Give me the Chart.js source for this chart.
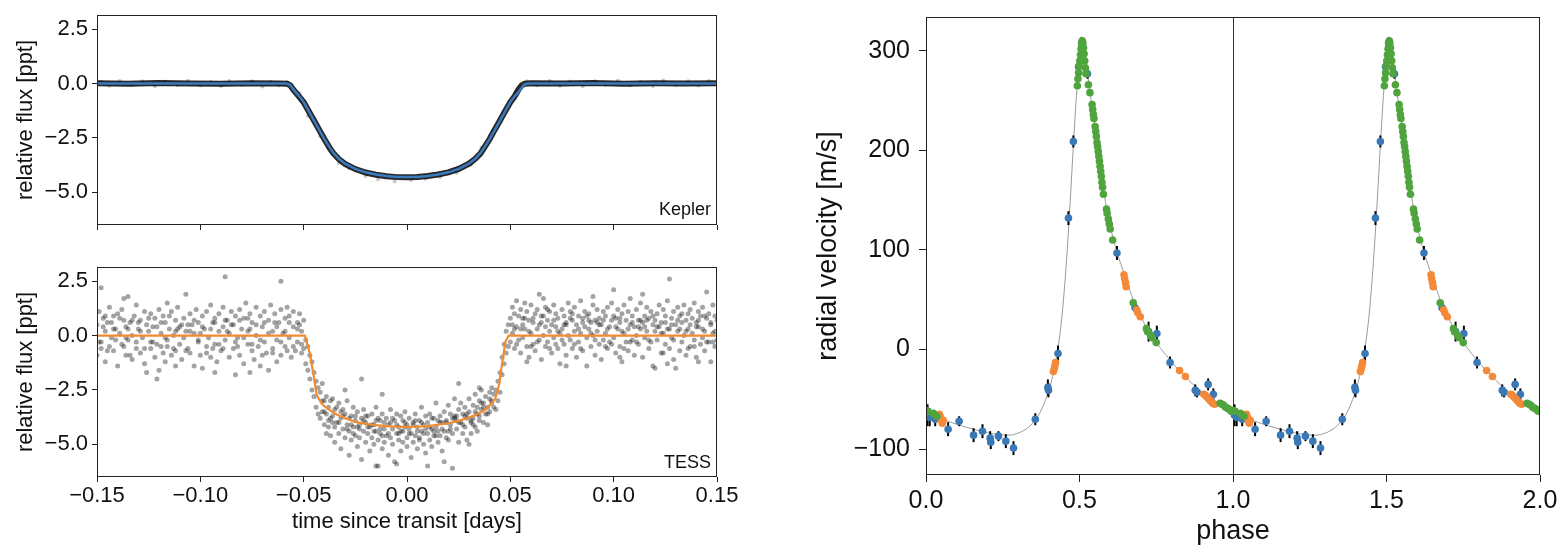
<!DOCTYPE html>
<html>
<head>
<meta charset="utf-8">
<title>Transit and RV fit</title>
<script src="https://cdn.jsdelivr.net/npm/chart.js@4.4.0/dist/chart.umd.min.js"></script>
<style>
  html, body { margin: 0; padding: 0; background: #fff; }
  body { width: 1566px; height: 553px; position: relative; overflow: hidden; }
  canvas { position: absolute; }
</style>
</head>
<body>
<canvas id="kepler" width="760" height="240" style="left:0;top:0"></canvas>
<canvas id="tess" width="760" height="298" style="left:0;top:255px"></canvas>
<canvas id="rv" width="766" height="553" style="left:800px;top:0"></canvas>
<script>
// ---- tick values / labels ----
const lcTimeTicks = [-0.15, -0.10, -0.05, 0, 0.05, 0.10, 0.15];
const lcTimeLabels = ['\u22120.15', '\u22120.10', '\u22120.05', '0.00', '0.05', '0.10', '0.15'];
const lcFluxTicks = [-5, -2.5, 0, 2.5];
const lcFluxLabels = ['\u22125.0', '\u22122.5', '0.0', '2.5'];
const rvPhaseTicks = [0, 0.5, 1, 1.5, 2];
const rvPhaseLabels = ['0.0', '0.5', '1.0', '1.5', '2.0'];
const rvVelTicks = [-100, 0, 100, 200, 300];
const rvVelLabels = ['\u2212100', '0', '100', '200', '300'];

// ---- Kepler (time in 1e-3 days, flux in ppt) ----
const keplerBinT = [-150,-135,-120,-105,-90,-75,-62,-58,-56.5,-55,-52,-50,-47,-45,-42,-40,-37,-35.5,-33,-30,-25,-20,-15,-10,-5,0,5,10,15,20,25,30,33,35.5,37,40,42,45,47,50,52,54,55.5,57,60,75,90,105,120,135,150];
const keplerBinF = [0.01,-0.01,0.02,0,-0.01,0.01,0,-0.01,-0.08,-0.28,-0.62,-0.86,-1.36,-1.70,-2.21,-2.55,-3.02,-3.22,-3.47,-3.69,-3.93,-4.09,-4.19,-4.26,-4.3,-4.31,-4.29,-4.25,-4.18,-4.08,-3.92,-3.68,-3.46,-3.22,-3.0,-2.55,-2.2,-1.7,-1.35,-0.86,-0.6,-0.27,-0.08,-0.01,0.01,0,0.02,-0.01,0.01,0,0.01];
// scattered Kepler points (time 1e-3 d, flux 1e-2 ppt)
const keplerPts = [-148,8, -144,-10, -139,12, -133,-7, -128,10, -122,-12, -117,9, -111,-8, -106,13, -100,-9, -95,7, -90,-11, -86,12, -80,-6, -75,10, -70,-13, -66,8, -62,-9, -58,6, -52,-45, -48,-148, -42,-242, -38,-295, -33,-365, -28,-390, -20,-425, -14,-440, -6,-450, 2,-443, 9,-438, 16,-430, 24,-410, 31,-372, 36,-295, 42,-215, 47,-135, 53,-40, 58,10, 63,-8, 69,12, 74,-10, 79,9, 85,-12, 91,11, 96,-7, 102,13, 108,-9, 113,8, 119,-11, 124,14, 130,-8, 136,10, 141,-9, 146,12];
const keplerModelT = [-150,-58,-56.5,-55,-52,-50,-45,-40,-37,-35.5,-33,-30,-25,-20,-15,-10,-5,0,5,10,15,20,25,30,33,35.5,37,40,45,50,52,55,56.5,58,150];
const keplerModelF = [0,0,-0.07,-0.27,-0.6,-0.85,-1.7,-2.55,-3.0,-3.2,-3.46,-3.68,-3.92,-4.08,-4.18,-4.25,-4.29,-4.3,-4.29,-4.25,-4.18,-4.08,-3.92,-3.68,-3.46,-3.2,-3.0,-2.55,-1.7,-0.85,-0.6,-0.27,-0.07,0,0];

// ---- TESS (time 1e-3 d, flux 0.1 ppt) ----
const tessPts = [
-150,5, -150,-9, -149,11, -148,22, -148,-3, -147,8, -146,-12, -146,2, -145,6, -144,-5,
-144,13, -143,-1, -142,9, -142,-7, -141,3, -140,-14, -140,10, -139,1, -138,-4, -138,12,
-137,7, -136,-9, -136,4, -135,18, -135,-2, -134,6, -133,-11, -133,0, -132,9, -131,-6,
-131,14, -130,3, -129,-8, -129,7, -128,-1, -127,11, -127,-13, -126,-17, -126,5, -125,2,
-124,-6, -124,10, -123,-3, -122,8, -122,-10, -121,-20, -121,4, -120,12, -119,-5, -119,1,
-118,9, -117,-12, -117,6, -116,15, -116,-2, -115,3, -114,-9, -114,11, -113,0, -112,-7,
-112,7, -111,13, -110,-4, -110,4, -109,-11, -108,8, -108,-1, -107,19, -107,2, -106,-6,
-105,10, -105,-8, -104,5, -103,-14, -103,1, -102,12, -101,-3, -101,6, -100,-9, -99,9,
-99,-15, -98,3, -97,11, -97,-5, -96,-1, -95,14, -95,-10, -94,6, -93,-4, -93,8,
-92,-12, -91,2, -91,10, -90,-7, -89,4, -89,13, -88,27, -88,-2, -87,7, -86,-10,
-86,1, -85,11, -84,-6, -84,5, -83,-18, -83,9, -82,-1, -81,12, -81,-9, -80,3,
-79,-13, -79,8, -78,15, -77,-4, -77,2, -76,10, -75,-7, -75,6, -74,-11, -73,13,
-73,0, -72,-5, -71,9, -71,-14, -70,4, -69,11, -69,-3, -68,-8, -67,7, -67,-16,
-66,14, -65,2, -65,-6, -64,10, -63,-2, -63,-12, -62,6, -61,12, -61,-9, -60,1,
-59,8, -59,-5, -58,13, -57,-1, -57,9, -56,-10, -55,4, -55,11, -54,-7, -53,6,
-53,-3, -52,10, -51,-8, -51,2, -61,25, -93,-17, -120,-16, -112,-14, -76,-17, -137,17,
-50,7, -50,-6, -49,-2, -49,-13, -48,-5, -48,-16, -47,-9, -47,-20, -46,-12, -46,-25,
-45,-17, -45,-28, -44,-21, -44,-33, -43,-24, -43,-36,
-42,-26, -42,-38, -41,-30, -41,-22, -40,-35, -40,-41, -39,-28, -39,-45, -38,-33, -38,-39,
-37,-30, -37,-46, -36,-37, -36,-29, -35,-42, -35,-49, -34,-33, -34,-40, -33,-45, -33,-31,
-32,-38, -32,-52, -31,-34, -31,-43, -30,-47, -30,-36, -29,-41, -29,-30, -28,-44, -28,-55,
-27,-37, -27,-48, -26,-33, -26,-42, -25,-46, -25,-39, -24,-51, -24,-35, -23,-43, -23,-47,
-22,-38, -22,-57, -21,-44, -21,-34, -20,-49, -20,-40, -19,-45, -19,-37, -18,-53, -18,-42,
-17,-36, -17,-47, -16,-41, -16,-50, -15,-44, -15,-33, -14,-48, -14,-60, -13,-39, -13,-45,
-12,-52, -12,-36, -11,-43, -11,-49, -10,-38, -10,-46, -9,-55, -9,-41, -8,-34, -8,-47,
-7,-50, -7,-43, -6,-39, -6,-58, -5,-45, -5,-36, -4,-48, -4,-42, -3,-53, -3,-37,
-2,-44, -2,-49, -1,-40, -1,-35, 0,-47, 0,-51, 1,-43, 1,-38, 2,-56, 2,-45,
3,-41, 3,-49, 4,-36, 4,-46, 5,-52, 5,-42, 6,-39, 6,-47, 7,-44, 7,-33,
8,-50, 8,-41, 9,-37, 9,-54, 10,-45, 10,-40, 11,-48, 11,-36, 12,-43, 12,-51,
13,-38, 13,-46, 14,-42, 14,-31, 15,-49, 15,-44, 16,-37, 16,-46, 17,-40, 17,-53,
18,-35, 18,-44, 19,-47, 19,-39, 20,-32, 20,-48, 21,-41, 21,-36, 22,-45, 22,-61,
23,-38, 23,-29, 24,-43, 24,-37, 25,-49, 25,-34, 26,-40, 26,-31, 27,-45, 27,-36,
28,-33, 28,-42, 29,-48, 29,-38, 30,-35, 30,-29, 31,-40, 31,-45, 32,-32, 32,-38,
33,-42, 33,-27, 34,-36, 34,-44, 35,-30, 35,-39, 36,-34, 36,-25, 37,-40, 37,-31,
38,-28, 38,-36, 39,-33, 39,-41, 40,-26, 40,-35, 41,-30, 41,-24, 42,-33, 42,-27,
-22,-20, -12,-27, -5,-59, 10,-60, 18,-58, 25,-22, -30,-25, -15,-60, 30,-50, 35,-24,
43,-25, 43,-34, 44,-21, 44,-30, 45,-17, 45,-26, 46,-10, 46,-18, 47,-4, 47,-13, 48,2, 48,-8, 49,5, 49,-5,
50,8, 50,-3, 51,13, 51,1, 52,-6, 52,10, 53,4, 53,16, 54,-2, 54,9,
55,12, 55,-8, 56,5, 56,-1, 57,15, 57,3, 58,-5, 58,11, 59,7, 59,-10,
60,1, 60,14, 61,-4, 61,8, 62,10, 62,-7, 63,3, 63,12, 64,19, 64,-2,
65,6, 65,-11, 66,9, 66,0, 67,13, 67,-5, 68,-3, 68,7, 69,11, 69,2,
70,-8, 70,5, 71,14, 71,-1, 72,4, 72,10, 73,-6, 73,8, 74,1, 74,-13,
75,12, 75,3, 76,-4, 76,9, 77,6, 77,-9, 78,15, 78,0, 79,-2, 79,11,
80,7, 80,-6, 81,13, 81,2, 82,-10, 82,5, 83,9, 83,-3, 84,16, 84,1,
85,-7, 85,8, 86,4, 86,11, 87,-1, 87,-14, 88,10, 88,3, 89,6, 89,-5,
90,14, 90,0, 91,-9, 91,7, 92,2, 92,12, 93,-4, 93,8, 94,5, 94,-11,
95,11, 95,-2, 96,9, 96,1, 97,-6, 97,13, 98,4, 98,-3, 99,15, 99,7,
100,21, 100,-1, 101,8, 101,-8, 102,3, 102,12, 103,-5, 103,6, 104,10, 104,-12,
105,1, 105,14, 106,-3, 106,7, 107,11, 107,-7, 108,5, 108,17, 109,-2, 109,9,
110,4, 110,-9, 111,12, 111,0, 112,7, 112,-4, 113,15, 113,3, 114,-10, 114,6,
115,9, 115,-1, 116,2, 116,13, 117,-6, 117,8, 118,11, 118,-3, 119,5, 119,-14,
120,-15, 120,7, 121,10, 121,-2, 122,4, 122,14, 123,-8, 123,6, 124,12, 124,1,
125,-4, 125,9, 126,16, 126,3, 127,26, 127,-6, 128,8, 128,-1, 129,11, 129,-11,
130,5, 130,-15, 131,13, 131,2, 132,-7, 132,9, 133,6, 133,-3, 134,14, 134,0,
135,-9, 135,7, 136,10, 136,3, 137,-5, 137,12, 138,1, 138,8, 139,-2, 139,15,
140,6, 140,-10, 141,11, 141,4, 142,-4, 142,9, 143,13, 143,-1, 144,2, 144,-7,
145,8, 145,20, 146,-3, 146,10, 147,5, 147,-12, 148,14, 148,1, 149,-5, 149,9,
150,7, 150,-2, 58,-12, 77,-14, 103,-10, 126,-13, 141,-12, 66,17, 90,18, 114,19,
// second visit, denser core of the cloud
-149,-3, -147,4, -145,-7, -143,6, -141,-2, -139,8, -137,-5, -135,3, -133,7, -131,-3,
-129,2, -127,-6, -125,8, -123,4, -121,-4, -119,6, -117,-1, -115,9, -113,-6, -111,3,
-109,5, -107,-7, -105,2, -103,7, -101,-2, -99,4, -97,-8, -95,3, -93,6, -91,-4,
-89,-6, -87,2, -85,5, -83,-3, -81,7, -79,-1, -77,8, -75,-4, -73,5, -71,-2,
-69,6, -67,1, -65,-8, -63,4, -61,-3, -59,2, -57,6, -55,-5, -53,3, -51,-4,
-148,-6, -142,3, -136,-1, -130,6, -124,-3, -118,-8, -112,2, -106,5, -100,1, -94,-6,
-88,7, -82,-5, -76,3, -70,-9, -64,6, -58,-7, -52,5, -146,9, -134,-9, -116,-5,
-41,-35, -39,-36, -37,-38, -35,-34, -33,-40, -31,-37, -29,-43, -27,-41, -25,-37, -23,-41,
-21,-39, -19,-42, -17,-41, -15,-39, -13,-43, -11,-40, -9,-45, -7,-38, -5,-41, -3,-44,
-1,-42, 1,-45, 3,-40, 5,-44, 7,-40, 9,-43, 11,-42, 13,-44, 15,-39, 17,-43,
19,-40, 21,-43, 23,-37, 25,-40, 27,-41, 29,-36, 31,-39, 33,-35, 35,-37, 37,-33,
39,-36, 41,-31, -40,-30, -36,-40, -32,-35, -28,-38, -24,-42, -20,-37, -16,-44, -12,-46,
-8,-40, -4,-45, 0,-41, 4,-39, 8,-45, 12,-38, 16,-40, 20,-44, 24,-39, 28,-37,
32,-41, 36,-31, 40,-29, -38,-42, -26,-45, -14,-38, -2,-39, 6,-48, 14,-46, 22,-38, 34,-33,
51,5, 53,-4, 55,3, 57,8, 59,2, 61,6, 63,-3, 65,9, 67,4, 69,-6,
71,7, 73,2, 75,-2, 77,5, 79,8, 81,-4, 83,3, 85,6, 87,9, 89,1,
91,-2, 93,5, 95,7, 97,3, 99,-4, 101,4, 103,8, 105,-6, 107,3, 109,6,
111,-3, 113,7, 115,4, 117,-2, 119,9, 121,4, 123,1, 125,6, 127,3, 129,-2,
131,7, 133,10, 135,2, 137,5, 139,-5, 141,7, 143,3, 145,-3, 147,6, 149,2,
52,3, 56,8, 60,-5, 64,5, 68,12, 72,-4, 76,5, 80,10, 84,-6, 88,7,
92,6, 96,-5, 100,9, 104,2, 108,-3, 112,4, 116,7, 120,2, 124,-8, 128,5,
132,3, 136,-6, 140,4, 144,9, 148,-3
];
const tessModelT = [-150,-49.4,-47,-45.3,-43.7,-41.3,-40,-37,-34.8,-30,-25,-20,-15,-10,-5,0,5,10,15,20,25,30,35,38,40,42.7,44.7,46,47.6,49.2,150];
const tessModelF = [0,0,-0.83,-1.75,-2.75,-3.13,-3.24,-3.45,-3.59,-3.8,-3.97,-4.06,-4.12,-4.16,-4.19,-4.2,-4.19,-4.16,-4.1,-4.03,-3.92,-3.77,-3.57,-3.4,-3.22,-2.9,-2.2,-1.29,-0.29,0,0];

// ---- radial velocities (phase, m/s) ----
const blueP = [0.005,0.012,0.030,0.072,0.108,0.155,0.184,0.209,0.211,0.236,0.260,0.285,0.356,0.397,0.399,0.430,0.464,0.480,0.497,0.507,0.526,0.622,0.681,0.725,0.752,0.795,0.877,0.883,0.919,0.936];
const blueV = [-66,-68,-70,-80,-72,-86,-82,-89,-93,-87,-92,-99,-70,-38,-41,-4,132,209,284,308,277,97,42,18,16,-13,-41,-43,-35,-45];
const blueE = [11,9,7,7,5,7,7,7,7,5,7,7,6,8,7,8,7,6,6,6,5,7,5,10,8,6,6,5,6,6];
const orangeP = [0.044,0.047,0.050,0.053,0.056,0.415,0.418,0.420,0.422,0.645,0.647,0.650,0.652,0.686,0.690,0.698,0.826,0.845,0.905,0.910,0.916,0.922,0.928,0.934,0.940];
const orangeV = [-65,-68,-71,-74,-71,-22,-19,-16,-13,75,71,67,63,40,37,33,-21,-27,-45,-46,-48,-50,-52,-54,-55];
const greenP = [0.000,0.006,0.024,0.030,0.036,
  0.493,0.495,0.497,0.499,0.501,0.503,0.505,0.507,0.509,0.511,0.513,0.515,0.517,0.519,0.521,
  0.529,0.534,0.541,0.543,0.545,0.547,0.551,0.553,0.555,0.557,0.559,0.561,0.563,0.565,0.567,0.569,0.571,0.573,0.575,0.578,0.588,0.590,0.594,0.597,0.600,0.608,
  0.675,0.718,0.722,0.732,0.736,0.750,
  0.958,0.964,0.970,0.976,0.982,0.988,0.994];
const greenV = [-61,-62,-64,-66,-67,
  265,272,278,285,290,296,302,307,310,308,303,297,290,283,277,
  266,258,246,241,236,232,224,219,214,208,204,199,194,189,184,179,174,168,163,156,141,137,131,126,121,110,
  47,21,18,14,12,7,
  -54,-55,-56,-58,-59,-60,-62];
const rvModelP = [0.00,0.04,0.08,0.12,0.16,0.20,0.24,0.27,0.30,0.33,0.35,0.37,0.39,0.40,0.41,0.42,0.43,0.44,0.45,0.46,0.47,0.48,0.49,0.50,0.51,0.515,0.52,0.53,0.54,0.55,0.56,0.57,0.58,0.59,0.60,0.62,0.64,0.66,0.68,0.70,0.72,0.75,0.78,0.81,0.84,0.87,0.90,0.93,0.96,1.00];
const rvModelV = [-63,-68,-73,-77,-80.5,-83.5,-85.5,-86,-84,-79,-73,-64,-50,-41,-30,-16,2,25,58,100,150,205,255,292,310,305,295,268,246,226,204,180,157,139,124,100,81,63,46,33,21,7,-5,-16,-26,-35,-43,-50,-56,-63];
const foldPhase = 1.0;

// ---- helpers ----
const FONT = "'Liberation Sans', Arial, Helvetica, sans-serif";
const INK = '#111111';
Chart.defaults.font.family = FONT;
Chart.defaults.color = INK;

const flatPairs = (flat, sx, sy) => {
    const out = [];
    for (let i = 0; i < flat.length; i += 2) out.push({ x: flat[i] * sx, y: flat[i + 1] * sy });
    return out;
};
const zip = (xs, ys, sx = 1, dx = 0) => xs.map((x, i) => ({ x: x * sx + dx, y: ys[i] }));
const labelFor = (ticks, labels) => (v) => {
    const i = ticks.findIndex(t => Math.abs(t - v) < 1e-9);
    return i >= 0 ? labels[i] : '';
};

// frame around the plot area (all four spines)
const framePlugin = {
    id: 'frame',
    afterDatasetsDraw(chart) {
        const { ctx, chartArea: a } = chart;
        ctx.save();
        ctx.strokeStyle = '#222';
        ctx.lineWidth = 1;
        ctx.strokeRect(Math.round(a.left) + 0.5, Math.round(a.top) + 0.5, Math.round(a.right - a.left) - 1, Math.round(a.bottom - a.top) - 1);
        ctx.restore();
    }
};

// instrument name in the lower right corner
const cornerLabel = {
    id: 'cornerLabel',
    afterDraw(chart, args, opts) {
        if (!opts.text) return;
        const { ctx, chartArea: a } = chart;
        ctx.save();
        ctx.font = '18px ' + FONT;
        ctx.fillStyle = INK;
        ctx.textAlign = 'right';
        ctx.textBaseline = 'alphabetic';
        ctx.fillText(opts.text, a.right - 6, a.bottom - opts.dy);
        ctx.restore();
    }
};

// black error bars under the marker
const errorBars = {
    id: 'errorBars',
    beforeDatasetDraw(chart, args) {
        const ds = chart.data.datasets[args.index];
        if (!ds.err) return;
        const { ctx, chartArea: a } = chart;
        const xs = chart.scales.x, ys = chart.scales.y;
        ctx.save();
        ctx.beginPath();
        ctx.rect(a.left, a.top, a.right - a.left, a.bottom - a.top);
        ctx.clip();
        ctx.strokeStyle = '#000';
        ctx.lineWidth = 2;
        ds.data.forEach((p, i) => {
            const px = xs.getPixelForValue(p.x);
            ctx.beginPath();
            ctx.moveTo(px, ys.getPixelForValue(p.y - ds.err[i]));
            ctx.lineTo(px, ys.getPixelForValue(p.y + ds.err[i]));
            ctx.stroke();
        });
        ctx.restore();
    }
};

// vertical line separating the two folded copies
const foldLine = {
    id: 'foldLine',
    beforeDatasetsDraw(chart) {
        const { ctx, chartArea: a } = chart;
        const x = Math.round(chart.scales.x.getPixelForValue(foldPhase)) + 0.5;
        ctx.save();
        ctx.strokeStyle = '#333';
        ctx.lineWidth = 1;
        ctx.beginPath();
        ctx.moveTo(x, a.top);
        ctx.lineTo(x, a.bottom);
        ctx.stroke();
        ctx.restore();
    }
};

// light-curve panel options
const lcOptions = (showX, xHeight, padTop, corner, cornerDy) => ({
    responsive: false,
    animation: false,
    events: [],
    layout: { padding: { left: 0, right: 43, top: padTop, bottom: 0 } },
    plugins: {
        legend: { display: false },
        tooltip: { enabled: false },
        cornerLabel: { text: corner, dy: cornerDy }
    },
    scales: {
        x: {
            type: 'linear', min: -0.15, max: 0.15,
            afterBuildTicks: s => { s.ticks = lcTimeTicks.map(v => ({ value: v })); },
            afterFit: s => { s.height = xHeight; s.paddingLeft = 0; s.paddingRight = 0; },
            ticks: { display: showX, padding: 1, font: { size: 22 }, color: INK, callback: labelFor(lcTimeTicks, lcTimeLabels) },
            grid: { drawOnChartArea: false, drawTicks: true, tickLength: 5, color: '#222' },
            border: { display: false },
            title: { display: showX, text: 'time since transit [days]', font: { size: 22 }, color: INK, padding: { top: 0, bottom: 18 } }
        },
        y: {
            type: 'linear', min: -6.5, max: 3.15,
            afterBuildTicks: s => { s.ticks = lcFluxTicks.map(v => ({ value: v })); },
            afterFit: s => { s.width = 97; s.paddingTop = 0; s.paddingBottom = 0; },
            ticks: { padding: 4, font: { size: 22 }, color: INK, callback: labelFor(lcFluxTicks, lcFluxLabels) },
            grid: { drawOnChartArea: false, drawTicks: true, tickLength: 5, color: '#222' },
            border: { display: false },
            title: { display: true, text: 'relative flux [ppt]', font: { size: 22 }, color: INK, padding: { top: 13, bottom: 0 } }
        }
    }
});

// Kepler panel (higher order = drawn further below)
new Chart(document.getElementById('kepler'), {
    type: 'scatter',
    data: {
        datasets: [
            { order: 3, data: zip(keplerBinT, keplerBinF, 1e-3), showLine: true, borderColor: 'rgba(15,15,15,0.9)', borderWidth: 6, pointRadius: 0, tension: 0 },
            { order: 2, data: flatPairs(keplerPts, 1e-3, 1e-2), pointRadius: 2, backgroundColor: 'rgba(0,0,0,0.22)', borderWidth: 0 },
            { order: 1, data: zip(keplerModelT, keplerModelF, 1e-3), showLine: true, borderColor: '#3a7abd', borderWidth: 2.5, pointRadius: 0, tension: 0 }
        ]
    },
    options: lcOptions(false, 15, 15, 'Kepler', 10),
    plugins: [framePlugin, cornerLabel]
});

// TESS panel
new Chart(document.getElementById('tess'), {
    type: 'scatter',
    data: {
        datasets: [
            { order: 2, data: flatPairs(tessPts, 1e-3, 0.1), pointRadius: 2.5, backgroundColor: 'rgba(0,0,0,0.36)', borderWidth: 0 },
            { order: 1, data: zip(tessModelT, tessModelF, 1e-3), showLine: true, borderColor: '#f28a2e', borderWidth: 2.2, pointRadius: 0, tension: 0 }
        ]
    },
    options: lcOptions(true, 76, 12, 'TESS', 9),
    plugins: [framePlugin, cornerLabel]
});

// radial velocity panel, folded data shown twice
const twice = (ps, vs) => zip(ps, vs).concat(zip(ps, vs, 1, 1));
const dot = (color, order) => ({ order: order, pointRadius: 3.8, backgroundColor: color, borderWidth: 0, pointStyle: 'circle' });

new Chart(document.getElementById('rv'), {
    type: 'scatter',
    data: {
        datasets: [
            { order: 5, data: zip(rvModelP, rvModelV), showLine: true, borderColor: '#9a9a9a', borderWidth: 1, pointRadius: 0, cubicInterpolationMode: 'monotone' },
            { order: 5, data: zip(rvModelP, rvModelV, 1, 1), showLine: true, borderColor: '#9a9a9a', borderWidth: 1, pointRadius: 0, cubicInterpolationMode: 'monotone' },
            Object.assign({ data: twice(blueP, blueV), err: blueE.concat(blueE) }, dot('#3a78b6', 3)),
            Object.assign({ data: twice(orangeP, orangeV) }, dot('#f4893a', 2)),
            Object.assign({ data: twice(greenP, greenV) }, dot('#50a43e', 1))
        ]
    },
    options: {
        responsive: false,
        animation: false,
        events: [],
        layout: { padding: { left: 0, right: 26, top: 17, bottom: 0 } },
        plugins: { legend: { display: false }, tooltip: { enabled: false } },
        scales: {
            x: {
                type: 'linear', min: 0, max: 2,
                afterBuildTicks: s => { s.ticks = rvPhaseTicks.map(v => ({ value: v })); },
                afterFit: s => { s.height = 78; s.paddingLeft = 0; s.paddingRight = 0; },
                ticks: { padding: 4, font: { size: 25 }, color: INK, callback: labelFor(rvPhaseTicks, rvPhaseLabels) },
                grid: { drawOnChartArea: false, drawTicks: true, tickLength: 7, color: '#222' },
                border: { display: false },
                title: { display: true, text: 'phase', font: { size: 27 }, color: INK, padding: { top: 0, bottom: 5 } }
            },
            y: {
                type: 'linear', min: -126, max: 334,
                afterBuildTicks: s => { s.ticks = rvVelTicks.map(v => ({ value: v })); },
                afterFit: s => { s.width = 126; s.paddingTop = 0; s.paddingBottom = 0; },
                ticks: { padding: 9, font: { size: 25 }, color: INK, callback: labelFor(rvVelTicks, rvVelLabels) },
                grid: { drawOnChartArea: false, drawTicks: true, tickLength: 7, color: '#222' },
                border: { display: false },
                title: { display: true, text: 'radial velocity [m/s]', font: { size: 27 }, color: INK, padding: { top: 12, bottom: 0 } }
            }
        }
    },
    plugins: [framePlugin, errorBars, foldLine]
});
</script>
</body>
</html>
